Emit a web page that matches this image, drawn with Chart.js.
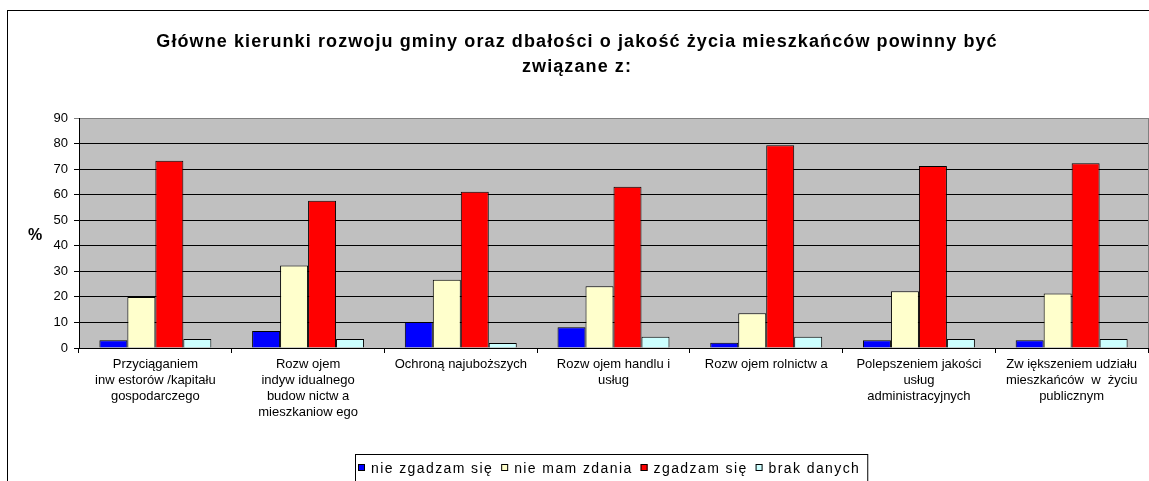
<!DOCTYPE html>
<html>
<head>
<meta charset="utf-8">
<script src="https://cdn.jsdelivr.net/npm/chart.js@4/dist/chart.umd.min.js"></script>
<style>
  html, body { margin: 0; padding: 0; background: #fff; overflow: hidden; }
  #wrap { position: absolute; left: 0; top: 0; width: 1160px; height: 492px; }
</style>
</head>
<body>
<div id="wrap"><canvas id="chart" width="1160" height="492"></canvas></div>
<script>
// categories (multi-line, as printed in the original)
const categories = [
    ['Przyciąganiem', 'inw estorów /kapitału', 'gospodarczego'],
    ['Rozw ojem', 'indyw idualnego', 'budow nictw a', 'mieszkaniow ego'],
    ['Ochroną najuboższych'],
    ['Rozw ojem handlu i', 'usług'],
    ['Rozw ojem rolnictw a'],
    ['Polepszeniem jakości', 'usług', 'administracyjnych'],
    ['Zw iększeniem udziału', 'mieszkańców  w  życiu', 'publicznym']
];

const seriesNames = ['nie zgadzam się', 'nie mam zdania', 'zgadzam się', 'brak danych'];
const seriesColors = ['#0000FF', '#FFFFCC', '#FF0000', '#CCFFFF'];

const nieZgadzam = [3.0, 6.7, 10.2, 8.1, 2.1, 3.0, 3.0];
const nieMamZdania = [20.0, 32.3, 26.7, 24.2, 13.6, 22.2, 21.3];
const zgadzam = [73.3, 57.6, 61.1, 63.1, 79.3, 71.2, 72.3];
const brakDanych = [3.5, 3.5, 2.0, 4.4, 4.4, 3.5, 3.5];

const yTicks = [0, 10, 20, 30, 40, 50, 60, 70, 80, 90];

const titleLines = ['Główne kierunki rozwoju gminy oraz dbałości o jakość życia mieszkańców powinny być', 'związane z:'];

const FONT = 'Arial, "Liberation Sans", sans-serif';

// gray plot background, outer frame, title, "%" and the boxed legend
const decorPlugin = {
    id: 'decor',
    beforeDraw(chart) {
        const ctx = chart.ctx;
        const a = chart.chartArea;
        ctx.save();
        ctx.fillStyle = '#C0C0C0';
        ctx.fillRect(a.left, a.top, a.right - a.left, a.bottom - a.top);
        ctx.strokeStyle = '#808080';
        ctx.lineWidth = 1;
        ctx.strokeRect(Math.round(a.left) + 0.5, Math.round(a.top) + 0.5, Math.round(a.right - a.left), Math.round(a.bottom - a.top));
        ctx.restore();
    },
    afterDraw(chart) {
        const ctx = chart.ctx;
        ctx.save();
        // outer frame
        ctx.strokeStyle = '#000';
        ctx.lineWidth = 1;
        ctx.strokeRect(7.5, 10.5, 1200, 600);

        // title
        ctx.fillStyle = '#000';
        ctx.font = 'bold 18px ' + FONT;
        ctx.letterSpacing = '1.1px';
        ctx.textAlign = 'center';
        ctx.textBaseline = 'middle';
        const cx = 577;
        ctx.fillText(titleLines[0], cx, 42);
        ctx.fillText(titleLines[1], cx, 67);

        // axis title
        ctx.letterSpacing = '0px';
        ctx.font = 'bold 16px ' + FONT;
        ctx.fillText('%', 35, 236);

        // legend
        ctx.font = '14px ' + FONT;
        ctx.letterSpacing = '1.4px';
        ctx.textAlign = 'left';
        const box = 7, gap = 6, sep = 8;
        const widths = seriesNames.map(n => box + gap + ctx.measureText(n).width);
        const lx = 358, ly = 468;
        let x = lx;
        seriesNames.forEach((n, i) => {
            ctx.fillStyle = seriesColors[i];
            ctx.fillRect(x, ly - 4, box, box);
            ctx.strokeStyle = '#000';
            ctx.strokeRect(x + 0.5, ly - 3.5, box - 1, box - 1);
            ctx.fillStyle = '#000';
            ctx.fillText(n, x + box + gap, ly + 1);
            x += widths[i] + sep;
        });
        ctx.strokeStyle = '#000';
        ctx.strokeRect(lx - 2.5, 454.5, x - lx + 2, 60);
        ctx.restore();
    }
};

const datasets = [nieZgadzam, nieMamZdania, zgadzam, brakDanych].map((vals, i) => ({
    label: seriesNames[i],
    data: vals,
    backgroundColor: seriesColors[i],
    borderColor: '#000',
    borderWidth: 1,
    borderSkipped: 'bottom',
    categoryPercentage: 0.733,
    barPercentage: 1.0
}));

new Chart(document.getElementById('chart'), {
    type: 'bar',
    data: { labels: categories, datasets: datasets },
    plugins: [decorPlugin],
    options: {
        responsive: false,
        animation: false,
        layout: { padding: { left: 0, top: 118, right: 12, bottom: 34 } },
        plugins: {
            legend: { display: false },
            title: { display: false },
            tooltip: { enabled: false }
        },
        scales: {
            x: {
                grid: { drawOnChartArea: false, offset: true, color: '#000', tickLength: 5 },
                border: { color: '#000' },
                ticks: {
                    color: '#000',
                    font: { family: FONT, size: 13, lineHeight: 1.25 },
                    padding: 3,
                    maxRotation: 0,
                    autoSkip: false
                },
                afterFit(scale) { scale.height = 110; }
            },
            y: {
                min: 0,
                max: 90,
                afterBuildTicks(scale) { scale.ticks = yTicks.map(v => ({ value: v })); },
                grid: {
                    color: ctx => (ctx.tick && ctx.tick.value === 90) ? '#808080' : '#000',
                    tickLength: 5
                },
                border: { color: '#000' },
                ticks: {
                    color: '#000',
                    font: { family: FONT, size: 13 },
                    padding: 6
                },
                afterFit(scale) { scale.width = 79; }
            }
        }
    }
});
</script>
</body>
</html>
